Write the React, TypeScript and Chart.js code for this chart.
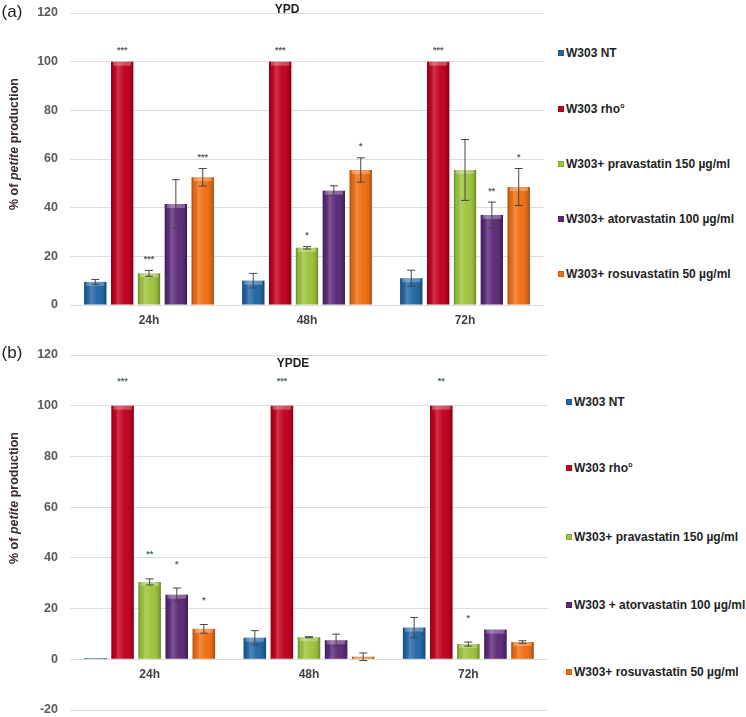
import React, { useEffect, useRef } from "react";
import { Chart, registerables } from "chart.js";

Chart.register(...registerables);

// ---------- data ----------
const categories = ["24h", "48h", "72h"];

const seriesNamesA = [
  "W303 NT",
  "W303 rho°",
  "W303+ pravastatin 150 µg/ml",
  "W303+ atorvastatin 100 µg/ml",
  "W303+ rosuvastatin 50 µg/ml",
];
const seriesNamesB = [
  "W303 NT",
  "W303 rho°",
  "W303+ pravastatin 150 µg/ml",
  "W303 + atorvastatin 100  µg/ml",
  "W303+ rosuvastatin 50  µg/ml",
];
const seriesColors = ["#2167a6", "#c3001e", "#9cc43c", "#5c2a79", "#f06e12"];

// Panel (a) YPD
const ypdNT = [9.5, 10, 11];
const ypdRho = [100, 100, 100];
const ypdPrava = [13, 23.5, 55.5];
const ypdAtorva = [41.5, 47, 37];
const ypdRosuva = [52.5, 55.5, 48.5];
const ypdNTErr = [1, 3, 3.3];
const ypdRhoErr = [0, 0, 0];
const ypdPravaErr = [1.2, 0.5, 12.5];
const ypdAtorvaErr = [10, 2, 5.3];
const ypdRosuvaErr = [3.6, 5, 7.6];
const ypdNTStars = ["", "", ""];
const ypdRhoStars = ["***", "***", "***"];
const ypdPravaStars = ["***", "*", ""];
const ypdAtorvaStars = ["", "", "**"];
const ypdRosuvaStars = ["***", "*", "*"];

// Panel (b) YPDE
const ypdeNT = [0.5, 8.5, 12.5];
const ypdeRho = [100, 100, 100];
const ypdePrava = [30.5, 8.7, 6];
const ypdeAtorva = [25.5, 7.5, 11.7];
const ypdeRosuva = [12, 1, 6.8];
const ypdeNTErr = [0, 2.8, 4];
const ypdeRhoErr = [0, 0, 0];
const ypdePravaErr = [1.2, 0.2, 0.8];
const ypdeAtorvaErr = [2.6, 2.4, 0];
const ypdeRosuvaErr = [1.7, 1.5, 0.5];
const ypdeNTStars = ["", "", ""];
const ypdeRhoStars = ["***", "***", "**"];
const ypdePravaStars = ["**", "", "*"];
const ypdeAtorvaStars = ["*", "", ""];
const ypdeRosuvaStars = ["*", "", ""];

const yTicksA = [0, 20, 40, 60, 80, 100, 120];
const yTicksB = [-20, 0, 20, 40, 60, 80, 100, 120];

const FONT = "'Liberation Sans', Arial, sans-serif";

// ---------- plugin: bevel shading, error bars, significance stars ----------
const extrasPlugin = {
  id: "extras",
  afterDatasetsDraw(chart: any, _args: any, opts: any) {
    const ctx = chart.ctx;
    const yScale = chart.scales.y;
    ctx.save();
    chart.data.datasets.forEach((ds: any, di: number) => {
      const meta = chart.getDatasetMeta(di);
      meta.data.forEach((el: any, i: number) => {
        const p = el.getProps(["x", "y", "base", "width"], true);
        const left = p.x - p.width / 2;
        const top = Math.min(p.y, p.base);
        const h = Math.abs(p.base - p.y);
        if (h > 0.5) {
          const g = ctx.createLinearGradient(left, 0, left + p.width, 0);
          g.addColorStop(0, "rgba(0,0,0,0.28)");
          g.addColorStop(0.12, "rgba(0,0,0,0.05)");
          g.addColorStop(0.3, "rgba(255,255,255,0.2)");
          g.addColorStop(0.6, "rgba(255,255,255,0.02)");
          g.addColorStop(0.88, "rgba(0,0,0,0.1)");
          g.addColorStop(1, "rgba(0,0,0,0.32)");
          ctx.fillStyle = g;
          ctx.fillRect(left, top, p.width, h);
          const capH = Math.min(4, h);
          ctx.fillStyle = "rgba(255,255,255,0.28)";
          ctx.fillRect(left + 2, top, p.width - 4, capH);
        }
        const v = ds.data[i];
        const e = opts.errors[di][i];
        if (e > 0) {
          const yHi = yScale.getPixelForValue(v + e);
          const yLo = yScale.getPixelForValue(v - e);
          ctx.strokeStyle = "#454545";
          ctx.lineWidth = 1;
          ctx.beginPath();
          ctx.moveTo(p.x, yHi);
          ctx.lineTo(p.x, yLo);
          ctx.moveTo(p.x - 4, yHi);
          ctx.lineTo(p.x + 4, yHi);
          ctx.moveTo(p.x - 4, yLo);
          ctx.lineTo(p.x + 4, yLo);
          ctx.stroke();
        }
        const s = opts.stars[di][i];
        if (s) {
          const ys = yScale.getPixelForValue(v + e) - opts.starOffset;
          ctx.fillStyle = opts.starColor;
          ctx.font = `bold 9px ${FONT}`;
          ctx.textAlign = "center";
          ctx.textBaseline = "middle";
          ctx.fillText(s, p.x, ys);
        }
      });
    });
    ctx.restore();
  },
};

function makeConfig(
  values: number[][],
  errors: number[][],
  stars: string[][],
  names: string[],
  ticks: number[],
  panel: "a" | "b"
): any {
  return {
    type: "bar",
    data: {
      labels: categories,
      datasets: values.map((d, i) => ({
        label: names[i],
        data: d,
        backgroundColor: seriesColors[i],
        borderWidth: 0,
        categoryPercentage: 0.85,
        barPercentage: 0.83,
      })),
    },
    plugins: [extrasPlugin],
    options: {
      animation: false,
      responsive: false,
      devicePixelRatio: 1,
      layout:
        panel === "a"
          ? { padding: { top: 13, right: 4, left: 0, bottom: 0 } }
          : { padding: { top: 25, right: 0, left: 0, bottom: 7 } },
      plugins: {
        legend: { display: false },
        tooltip: { enabled: false },
        title: { display: false },
        extras: {
          errors,
          stars,
          starColor: panel === "a" ? "#5a5a5a" : "#4d6a6a",
          starOffset: panel === "a" ? 11 : 24,
        },
      },
      scales: {
        y: {
          min: ticks[0],
          max: ticks[ticks.length - 1],
          afterBuildTicks: (s: any) => {
            s.ticks = ticks.map((t) => ({ value: t }));
          },
          afterFit: (s: any) => {
            s.width = 70;
            s.paddingTop = 7;
            s.paddingBottom = 7;
          },
          ticks: {
            padding: 12,
            color: "#595959",
            font: { family: FONT, size: 12.5, weight: "bold" },
          },
          grid: { color: "#dcdcdc", drawTicks: false, lineWidth: 1 },
          border: { display: false },
        },
        x: {
          position: panel === "a" ? "bottom" : { y: 0 },
          afterFit: (s: any) => {
            if (panel === "a") s.height = 25;
          },
          ticks: {
            padding: 8,
            color: "#404040",
            font: { family: FONT, size: 12, weight: "bold" },
          },
          grid: { display: false, drawTicks: false },
          border: { display: false },
        },
      },
    },
  };
}

function ChartCanvas(props: {
  config: any;
  left: number;
  top: number;
  width: number;
  height: number;
}) {
  const ref = useRef<HTMLCanvasElement>(null);
  useEffect(() => {
    if (!ref.current) return;
    const chart = new Chart(ref.current, props.config);
    return () => chart.destroy();
  }, []);
  return (
    <canvas
      ref={ref}
      width={props.width}
      height={props.height}
      style={{
        position: "absolute",
        left: props.left,
        top: props.top,
        width: props.width,
        height: props.height,
      }}
    />
  );
}

function Legend(props: { names: string[]; left: number; ys: number[] }) {
  return (
    <>
      {props.names.map((n, i) => (
        <div
          key={n}
          style={{
            position: "absolute",
            left: props.left,
            top: props.ys[i],
            transform: "translateY(-50%)",
            display: "flex",
            alignItems: "center",
            whiteSpace: "nowrap",
            font: `bold 12px ${FONT}`,
            color: "#1e1e1e",
          }}
        >
          <span
            style={{
              display: "inline-block",
              width: 6,
              height: 6,
              background: seriesColors[i],
              marginRight: 2,
              boxShadow: "inset 0 0 0 1px rgba(0,0,0,0.15)",
            }}
          />
          {n}
        </div>
      ))}
    </>
  );
}

function YTitle(props: { x: number; y: number }) {
  return (
    <div
      style={{
        position: "absolute",
        left: props.x,
        top: props.y,
        transform: "translate(-50%, -50%) rotate(-90deg)",
        whiteSpace: "nowrap",
        font: `bold 12.5px ${FONT}`,
        color: "#3b2a2a",
      }}
    >
      % of <i>petite</i> production
    </div>
  );
}

function Label(props: { text: string; x: number; y: number; font: string; color: string }) {
  return (
    <div
      style={{
        position: "absolute",
        left: props.x,
        top: props.y,
        transform: "translate(-50%, -50%)",
        whiteSpace: "nowrap",
        font: props.font,
        color: props.color,
      }}
    >
      {props.text}
    </div>
  );
}

export default function App() {
  const cfgA = makeConfig(
    [ypdNT, ypdRho, ypdPrava, ypdAtorva, ypdRosuva],
    [ypdNTErr, ypdRhoErr, ypdPravaErr, ypdAtorvaErr, ypdRosuvaErr],
    [ypdNTStars, ypdRhoStars, ypdPravaStars, ypdAtorvaStars, ypdRosuvaStars],
    seriesNamesA,
    yTicksA,
    "a"
  );
  const cfgB = makeConfig(
    [ypdeNT, ypdeRho, ypdePrava, ypdeAtorva, ypdeRosuva],
    [ypdeNTErr, ypdeRhoErr, ypdePravaErr, ypdeAtorvaErr, ypdeRosuvaErr],
    [ypdeNTStars, ypdeRhoStars, ypdePravaStars, ypdeAtorvaStars, ypdeRosuvaStars],
    seriesNamesB,
    yTicksB,
    "b"
  );
  return (
    <div
      style={{
        position: "absolute",
        left: 0,
        top: 0,
        width: 746,
        height: 717,
        background: "#ffffff",
        overflow: "hidden",
      }}
    >
      <ChartCanvas config={cfgA} left={0} top={0} width={548} height={330} />
      <ChartCanvas config={cfgB} left={0} top={330} width={548} height={387} />
      <Label text="(a)" x={12} y={12} font={`17px ${FONT}`} color="#222" />
      <Label text="(b)" x={12} y={353} font={`17px ${FONT}`} color="#222" />
      <Label text="YPD" x={287} y={9} font={`bold 12px ${FONT}`} color="#1e1e1e" />
      <Label text="YPDE" x={293} y={363} font={`bold 12px ${FONT}`} color="#1e1e1e" />
      <YTitle x={14} y={144} />
      <YTitle x={14} y={498} />
      <Legend names={seriesNamesA} left={558} ys={[53, 109, 164, 219, 274]} />
      <Legend names={seriesNamesB} left={566} ys={[402, 468, 537, 605, 672]} />
    </div>
  );
}
